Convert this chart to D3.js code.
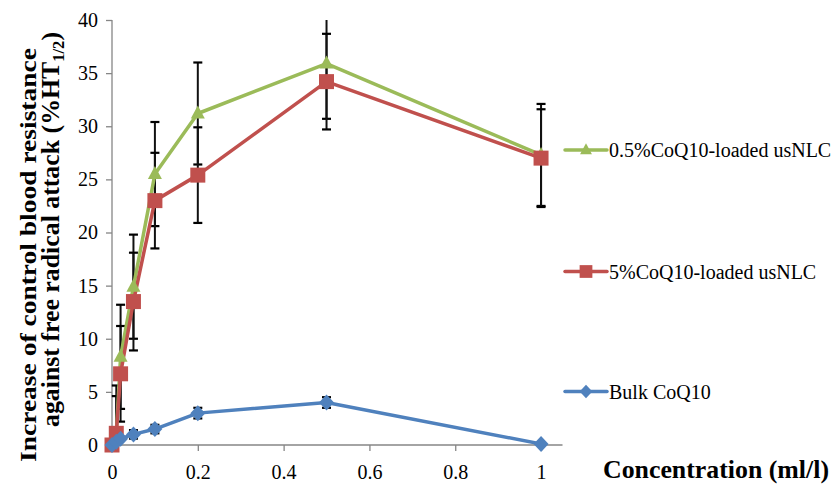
<!DOCTYPE html>
<html>
<head>
<meta charset="utf-8">
<script src="https://d3js.org/d3.v7.min.js"></script>
<style>
    body { margin: 0; background: #fff; }
    text { font-family: "Liberation Serif", "Times New Roman", serif; fill: #000; }
</style>
</head>
<body>
<svg id="chart" width="833" height="485"></svg>
<script>
    // concentrations (ml/l)
    var conc = [0, 0.01, 0.02, 0.05, 0.1, 0.2, 0.5, 1];

    // 0.5% CoQ10-loaded usNLC
    var lowLoad = [0, 1.0, 8.3, 14.9, 25.5, 31.2, 35.9, 27.3];
    var lowLoadErr = [0, 4.6, 4.9, 4.9, 4.9, 4.8, 5.2, 4.8];

    // 5% CoQ10-loaded usNLC
    var highLoad = [0, 1.1, 6.7, 13.5, 23.0, 25.4, 34.2, 27.0];
    var highLoadErr = [0, 3.5, 4.5, 4.6, 4.5, 4.5, 4.5, 4.6];

    // bulk CoQ10
    var bulk = [0, 0.3, 0.6, 1.0, 1.5, 3.0, 4.0, 0.1];
    var bulkErr = [0, 0, 0, 0.4, 0.4, 0.5, 0.5, 0];

    var names = ["0.5%CoQ10-loaded usNLC", "5%CoQ10-loaded usNLC", "Bulk CoQ10"];
    var colors = ["#9BBB59", "#C0504D", "#4F81BD"];
    var shapes = ["triangle", "square", "diamond"];

    var yTicks = [0, 5, 10, 15, 20, 25, 30, 35, 40];
    var xTicks = [0, 0.2, 0.4, 0.6, 0.8, 1];

    var svg = d3.select("#chart");

    var x = d3.scaleLinear().domain([0, 1.05]).range([112, 562.5]);
    var y = d3.scaleLinear().domain([0, 40]).range([445, 20]);

    var series = [
        { name: names[0], values: lowLoad, err: lowLoadErr, color: colors[0], shape: shapes[0] },
        { name: names[1], values: highLoad, err: highLoadErr, color: colors[1], shape: shapes[1] },
        { name: names[2], values: bulk, err: bulkErr, color: colors[2], shape: shapes[2] }
    ];
    series.forEach(function(s) {
        s.points = conc.map(function(c, i) { return { x: c, y: s.values[i], e: s.err[i] }; });
    });

    var markerPath = {
        triangle: "M0,-8L7,5L-7,5Z",
        square: "M-7.5,-7.5L7.5,-7.5L7.5,7.5L-7.5,7.5Z",
        diamond: "M0,-8L7.5,0L0,8L-7.5,0Z"
    };

    // axes
    var yAxis = d3.axisLeft(y).tickValues(yTicks).tickSize(6).tickPadding(8)
        .tickFormat(d3.format("d"));
    var xAxis = d3.axisBottom(x).tickValues(xTicks).tickSize(6).tickPadding(14)
        .tickFormat(function(d) { return d === 0 || d === 1 ? d : d3.format(".1f")(d); });

    var gy = svg.append("g").attr("transform", "translate(112,0)").call(yAxis);
    var gx = svg.append("g").attr("transform", "translate(0,445)").call(xAxis);
    [gx, gy].forEach(function(g) {
        g.attr("font-family", null);
        g.select(".domain").attr("stroke", "#868686").attr("stroke-width", 1.3);
        g.selectAll(".tick line").attr("stroke", "#868686").attr("stroke-width", 1.3);
        g.selectAll(".tick text").style("font-size", "20px").attr("fill", "#000");
    });
    gx.select(".tick line").remove();
    gy.select(".domain").attr("d", "M0,445V20");
    gx.select(".domain").attr("d", "M112,0H562.5");

    // plot clip
    svg.append("clipPath").attr("id", "plot")
        .append("rect").attr("x", 100).attr("y", 20).attr("width", 470).attr("height", 425);

    var plot = svg.append("g").attr("clip-path", "url(#plot)");

    // error bars
    series.forEach(function(s) {
        var bars = plot.append("g").selectAll("g")
            .data(s.points.filter(function(p) { return p.e > 0; }))
            .enter().append("g");
        bars.append("line")
            .attr("x1", function(p) { return x(p.x); }).attr("x2", function(p) { return x(p.x); })
            .attr("y1", function(p) { return y(p.y + p.e); }).attr("y2", function(p) { return y(p.y - p.e); })
            .attr("stroke", "#111").attr("stroke-width", 2);
        [1, -1].forEach(function(sign) {
            bars.append("line")
                .attr("x1", function(p) { return x(p.x) - 4.5; }).attr("x2", function(p) { return x(p.x) + 4.5; })
                .attr("y1", function(p) { return y(p.y + sign * p.e); })
                .attr("y2", function(p) { return y(p.y + sign * p.e); })
                .attr("stroke", "#000").attr("stroke-width", 2.2);
        });
    });

    // lines
    var line = d3.line().x(function(p) { return x(p.x); }).y(function(p) { return y(p.y); });
    series.forEach(function(s) {
        plot.append("path").datum(s.points).attr("d", line)
            .attr("fill", "none").attr("stroke", s.color).attr("stroke-width", 3.5)
            .attr("stroke-linejoin", "round");
    });

    // markers
    series.forEach(function(s) {
        svg.append("g").selectAll("path").data(s.points).enter().append("path")
            .attr("d", markerPath[s.shape])
            .attr("transform", function(p) { return "translate(" + x(p.x) + "," + y(p.y) + ")"; })
            .attr("fill", s.color);
    });

    // legend
    var legendY = [150, 271.5, 391.5];
    series.forEach(function(s, i) {
        var g = svg.append("g").attr("transform", "translate(0," + legendY[i] + ")");
        g.append("line").attr("x1", 565).attr("x2", 607).attr("y1", 0).attr("y2", 0)
            .attr("stroke", s.color).attr("stroke-width", 3.5).attr("stroke-linecap", "round");
        g.append("path").attr("d", markerPath[s.shape])
            .attr("transform", "translate(586,0) scale(0.85)").attr("fill", s.color);
        g.append("text").attr("x", 609).attr("y", 7).style("font-size", "20px").text(s.name);
    });

    // axis titles
    svg.append("text").attr("x", 603).attr("y", 478)
        .style("font-size", "25px").style("font-weight", "bold")
        .attr("textLength", 226).attr("lengthAdjust", "spacingAndGlyphs")
        .text("Concentration (ml/l)");

    svg.append("text")
        .attr("transform", "translate(36,255) rotate(-90)")
        .attr("text-anchor", "middle")
        .style("font-size", "24px").style("font-weight", "bold")
        .attr("textLength", 414).attr("lengthAdjust", "spacingAndGlyphs")
        .text("Increase of control blood resistance");

    var t2 = svg.append("text")
        .attr("transform", "translate(59,229.5) rotate(-90)")
        .attr("text-anchor", "middle")
        .style("font-size", "25px").style("font-weight", "bold")
        .attr("textLength", 395).attr("lengthAdjust", "spacingAndGlyphs");
    t2.append("tspan").text("against free radical attack (%HT");
    t2.append("tspan").attr("dy", 5).style("font-size", "16px").text("1/2");
    t2.append("tspan").attr("dy", -5).text(")");
</script>
</body>
</html>
